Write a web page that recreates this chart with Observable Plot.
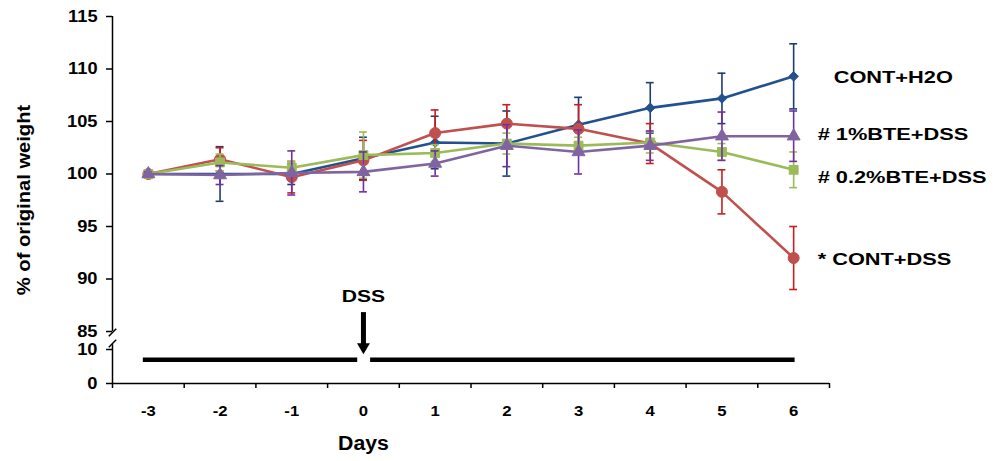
<!DOCTYPE html>
<html><head><meta charset="utf-8">
<script src="https://cdn.jsdelivr.net/npm/d3@7"></script>
<script src="https://cdn.jsdelivr.net/npm/@observablehq/plot@0.6"></script>
<style>
html,body{margin:0;padding:0;background:#fff;}
svg text{font-family:"Liberation Sans",Arial,sans-serif;font-weight:bold;}
</style></head><body><div id="chart"></div>
<script>
// ---- data ----
const days = [-3, -2, -1, 0, 1, 2, 3, 4, 5, 6];
const h2oMean  = [100, 100.0, 100.0, 101.5, 103.0, 102.9, 104.7, 106.3, 107.2, 109.3];
const h2oErr   = [0.2, 2.6, 1.0, 2.0, 2.5, 3.1, 2.6, 2.4, 2.4, 3.1];
const dssMean  = [100, 101.4, 99.7, 101.3, 103.9, 104.8, 104.3, 102.9, 98.3, 92.0];
const dssErr   = [0.2, 1.1, 1.5, 1.9, 2.2, 1.8, 2.3, 1.9, 2.1, 3.0];
const bte02Mean = [100, 101.1, 100.6, 101.8, 102.0, 102.9, 102.7, 103.0, 102.1, 100.4];
const bte02Err  = [0.2, 0.8, 0.6, 2.2, 0.8, 1.0, 0.8, 1.0, 0.8, 1.7];
const bte1Mean = [100, 99.9, 100.1, 100.2, 101.0, 102.7, 102.1, 102.7, 103.6, 103.6];
const bte1Err  = [0.2, 0.9, 2.1, 1.9, 1.2, 2.0, 2.1, 1.4, 2.3, 2.4];
const seriesLabels = ["CONT+H2O", "* CONT+DSS", "# 0.2%BTE+DSS", "# 1%BTE+DSS"];
const yTicks = [0, 10, 85, 90, 95, 100, 105, 110, 115];
const dssStartDay = 0;
const periodStarts = [-3.07, 0.1];
const periodEnds = [-0.08, 6.02];
const periodLevel = 7;

// ---- build ----
const rows = (mean, err) => days.map((d, i) => ({day: d, v: mean[i], e: err[i]}));
const series = [
  {label: seriesLabels[0], data: rows(h2oMean, h2oErr), color: "#23508F", errColor: "#1F3D73", symbol: "diamond2", r: 4.3, dx: 40, dy: 1},
  {label: seriesLabels[1], data: rows(dssMean, dssErr), color: "#C0504D", errColor: "#C81E1E", symbol: "circle", r: 5.5, dx: 24, dy: 2},
  {label: seriesLabels[2], data: rows(bte02Mean, bte02Err), color: "#9BBB59", errColor: "#9BBB59", symbol: "square", r: 5.0, dx: 24, dy: 8},
  {label: seriesLabels[3], data: rows(bte1Mean, bte1Err), color: "#8064A2", errColor: "#7030A0", symbol: "triangle", r: 4.8, dx: 24, dy: -1}
];
const capHalf = 0.055;
const periods = periodStarts.map((s, i) => ({start: s, end: periodEnds[i], level: periodLevel}));
const bounds = days.map(d => d - 0.5).concat([days[days.length - 1] + 0.5]);
const slash = {draw(ctx, size) { const s = Math.sqrt(size) / 2; ctx.moveTo(-s, s); ctx.lineTo(s, -s); }};

const seriesMarks = series.flatMap(s => [
  Plot.ruleX(s.data, {x: "day", y1: d => d.v - d.e, y2: d => d.v + d.e, stroke: s.errColor, strokeWidth: 1.6}),
  Plot.ruleY(s.data, {x1: d => d.day - capHalf, x2: d => d.day + capHalf, y: d => d.v - d.e, stroke: s.errColor, strokeWidth: 1.6}),
  Plot.ruleY(s.data, {x1: d => d.day - capHalf, x2: d => d.day + capHalf, y: d => d.v + d.e, stroke: s.errColor, strokeWidth: 1.6}),
  Plot.line(s.data, {x: "day", y: "v", stroke: s.color, strokeWidth: 2.6}),
  Plot.dot(s.data, {x: "day", y: "v", symbol: s.symbol, r: s.r, fill: s.color, stroke: s.color, strokeWidth: 1})
]);
const labelMarks = series.map(s => Plot.text([s.data[s.data.length - 1]], {
  x: "day", y: "v", text: () => s.label, textAnchor: "start", lineAnchor: "middle",
  dx: s.dx, dy: s.dy, fontSize: 16.5, fill: "#000", ariaLabel: () => "series-label"
}));

const chart = Plot.plot({
  width: 1004, height: 461,
  marginTop: 16, marginBottom: 78, marginLeft: 112, marginRight: 175,
  x: {type: "linear", domain: [-3.5, 6.5], axis: null},
  y: {type: "linear", domain: [0, 10, 85, 115], range: [383, 349, 331, 16], axis: null},
  style: {fontFamily: "Liberation Sans, Arial, sans-serif", fontWeight: "bold", color: "#000", background: "#fff", overflow: "visible"},
  marks: [
    // axes
    Plot.ruleY([0], {stroke: "#000", strokeWidth: 1.5}),
    Plot.ruleX([[85, 115], [0, 30]], {x: -3.5, y1: d => d[0], y2: d => d[1], stroke: "#000", strokeWidth: 1.5}),
    Plot.dot([80.8, 35], {x: -3.5, y: d => d, symbol: slash, r: 4.2, stroke: "#000", strokeWidth: 1.5}),
    Plot.axisY(yTicks, {tickSize: 6, tickPadding: 9, fontSize: 16, fontWeight: "bold", label: null, tickFormat: d => String(d), stroke: "#000", strokeWidth: 1.5, ariaLabel: "ytick"}),
    Plot.axisX(bounds, {tickSize: 5, tickFormat: () => "", label: null, stroke: "#000", strokeWidth: 1.5}),
    Plot.text(days, {x: d => d, frameAnchor: "bottom", dy: 28, textAnchor: "middle", lineAnchor: "middle", text: d => String(d), fontSize: 14.5, ariaLabel: () => "xtick"}),
    Plot.text(["Days"], {x: dssStartDay, frameAnchor: "bottom", dy: 60, textAnchor: "middle", lineAnchor: "middle", fontSize: 19.5, ariaLabel: () => "xlabel"}),
    Plot.text(["% of original weight"], {frameAnchor: "left", dx: -88, rotate: -90, textAnchor: "middle", lineAnchor: "middle", fontSize: 18, ariaLabel: () => "ylabel"}),
    // DSS treatment periods & arrow
    Plot.ruleY(periods, {x1: "start", x2: "end", y: "level", stroke: "#000", strokeWidth: 4.5}),
    Plot.ruleX([dssStartDay], {x: d => d, y1: 86.8, y2: 26.7, stroke: "#000", strokeWidth: 5}),
    Plot.dot([dssStartDay], {x: d => d, y: 21, symbol: "triangle", rotate: 180, r: 4.8, fill: "#000"}),
    Plot.text(["DSS"], {x: dssStartDay, y: 87.8, lineAnchor: "bottom", fontSize: 16.5, ariaLabel: () => "dss"}),
    // series
    ...seriesMarks,
    ...labelMarks
  ]
});
document.getElementById("chart").appendChild(chart);

function stretch(label, k) {
  chart.querySelectorAll(`text[aria-label="${label}"], g[aria-label="${label}"] text`).forEach(t => {
    const w = t.getComputedTextLength();
    t.setAttribute("textLength", (w * k).toFixed(1));
    t.setAttribute("lengthAdjust", "spacingAndGlyphs");
  });
}
stretch("series-label", 1.32);
stretch("ytick tick label", 1.14);
stretch("xtick", 1.15);
stretch("xlabel", 1.09);
stretch("ylabel", 1.12);
stretch("dss", 1.28);
</script></body></html>
